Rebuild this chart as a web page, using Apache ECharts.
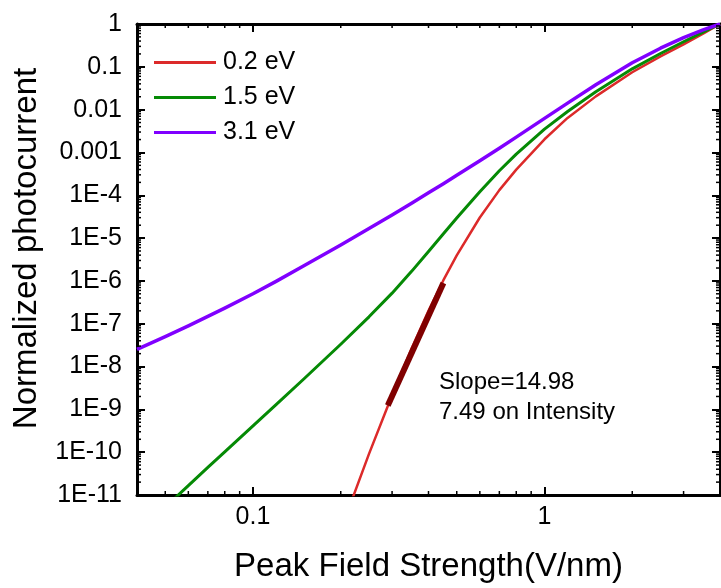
<!DOCTYPE html>
<html>
<head>
<meta charset="utf-8">
<script src="https://cdn.jsdelivr.net/npm/echarts@6/dist/echarts.min.js"></script>
<style>
html,body{margin:0;padding:0;background:#fff;}
#chart{width:721px;height:588px;}
</style>
</head>
<body>
<div id="chart"></div>
<script>
// ---- data ----
const fieldStrength = [0.04, 0.05, 0.06, 0.07, 0.08, 0.1, 0.12, 0.15, 0.2, 0.22, 0.25, 0.3, 0.35, 0.4, 0.45, 0.5, 0.6, 0.7, 0.8, 1.0, 1.2, 1.5, 2, 2.5, 3, 3.5, 4];
const series02eV = [null, null, null, null, null, null, null, null, 1.41e-12, 8.71e-12, 9.12e-11, 2.13e-9, 2.64e-8, 2.01e-7, 1.04e-6, 3.95e-6, 3.03e-5, 1.32e-4, 3.98e-4, 2.03e-3, 6.40e-3, 2.04e-2, 7.46e-2, 0.175, 0.336, 0.594, 1];
const series15eV = [null, 5.18e-12, 1.66e-11, 4.42e-11, 1.02e-10, 4.13e-10, 1.29e-9, 5.26e-9, 3.32e-8, null, 1.45e-7, 5.18e-7, 1.67e-6, 4.86e-6, 1.26e-5, 2.94e-5, 1.21e-4, 3.74e-4, 9.16e-4, 3.50e-3, 9.02e-3, 2.61e-2, 8.97e-2, 0.205, 0.385, 0.646, 1];
const series31eV = [2.51e-8, 5.01e-8, 8.91e-8, 1.48e-7, 2.32e-7, 5.01e-7, 9.77e-7, 2.29e-6, 6.92e-6, null, 1.67e-5, 3.47e-5, 6.53e-5, 1.14e-4, 1.86e-4, 2.92e-4, 6.38e-4, 1.26e-3, 2.28e-3, 6.24e-3, 1.42e-2, 3.83e-2, 0.124, 0.272, 0.479, 0.726, 1];
const slopeFitX = [0.29, 0.45];
const slopeFitY = [1.23e-9, 8.9e-7];
const seriesNames = ['0.2 eV', '1.5 eV', '3.1 eV'];
const xTickValues = [0.1, 1];
const xTickLabels = ['0.1', '1'];
const yTickValues = [1, 0.1, 0.01, 0.001, 1e-4, 1e-5, 1e-6, 1e-7, 1e-8, 1e-9, 1e-10, 1e-11];
const yTickLabels = ['1', '0.1', '0.01', '0.001', '1E-4', '1E-5', '1E-6', '1E-7', '1E-8', '1E-9', '1E-10', '1E-11'];
const annotationText = ['Slope=14.98', '7.49 on Intensity'];
const xMin = 0.04, xMax = 4, yMin = 1e-11, yMax = 1;
const xMinorTicks = [0.05, 0.06, 0.07, 0.08, 0.09, 0.2, 0.3, 0.4, 0.5, 0.6, 0.7, 0.8, 0.9, 2, 3];

// ---- build ----
const FONT = 'Liberation Sans, Arial, sans-serif';
function pairs(xs, ys) {
  const out = [];
  for (let i = 0; i < xs.length; i++) if (ys[i] != null) out.push([xs[i], ys[i]]);
  return out;
}
function labelFor(values, labels, v) {
  for (let i = 0; i < values.length; i++) {
    if (Math.abs(Math.log10(v) - Math.log10(values[i])) < 1e-6) return labels[i];
  }
  return '';
}

const minorData = [];
xMinorTicks.forEach(x => { minorData.push([x, yMin, 0]); minorData.push([x, yMax, 1]); });
for (let d = -11; d < 0; d++) {
  for (let k = 2; k <= 9; k++) {
    const y = k * Math.pow(10, d);
    minorData.push([xMin, y, 2]);
    minorData.push([xMax, y, 3]);
  }
}

const axisLineStyle = {color: '#000', width: 3};
function makeX(pos, showLabel) {
  return {
    type: 'log', logBase: 10, min: xMin, max: xMax, position: pos,
    axisLine: {show: true, onZero: false, lineStyle: axisLineStyle},
    axisTick: {show: true, inside: true, length: 8, lineStyle: {color: '#000', width: 2}, customValues: xTickValues},
    axisLabel: {show: showLabel, customValues: xTickValues, formatter: v => labelFor(xTickValues, xTickLabels, v),
      fontSize: 25, color: '#000', fontFamily: FONT, margin: 10},
    splitLine: {show: false}, minorTick: {show: false}
  };
}
function makeY(pos, showLabel) {
  return {
    type: 'log', logBase: 10, min: yMin, max: yMax, position: pos,
    axisLine: {show: true, onZero: false, lineStyle: axisLineStyle},
    axisTick: {show: true, inside: true, length: 8, lineStyle: {color: '#000', width: 2}, customValues: yTickValues},
    axisLabel: {show: showLabel, customValues: yTickValues, formatter: v => labelFor(yTickValues, yTickLabels, v),
      fontSize: 25, color: '#000', fontFamily: FONT, margin: 15},
    splitLine: {show: false}, minorTick: {show: false}
  };
}
const xa = makeX('bottom', true);
xa.name = 'Peak Field Strength(V/nm)';
xa.nameLocation = 'middle';
xa.nameGap = 55;
xa.nameTextStyle = {fontSize: 33, color: '#000', fontFamily: FONT};
const ya = makeY('left', true);
ya.name = 'Normalized photocurrent';
ya.nameLocation = 'middle';
ya.nameGap = 94;
ya.nameTextStyle = {fontSize: 33, color: '#000', fontFamily: FONT, padding: [0, 0, 0, 22]};

const lineCommon = {type: 'line', symbol: 'none', showSymbol: false, smooth: false, clip: true};
const option = {
  animation: false,
  backgroundColor: '#fff',
  grid: {left: 137, right: 1, top: 24, bottom: 90},
  xAxis: [xa, makeX('top', false)],
  yAxis: [ya, makeY('right', false)],
  legend: {
    data: seriesNames, orient: 'vertical', left: 154, top: 50, padding: 0,
    icon: 'rect', itemWidth: 62, itemHeight: 3, itemGap: 10,
    textStyle: {fontSize: 25, lineHeight: 24, color: '#000', fontFamily: FONT, padding: [0, 0, 0, 2]}
  },
  graphic: [{
    type: 'text', left: 439, top: 367,
    style: {text: annotationText.join('\n'), fontSize: 24, lineHeight: 30, fill: '#000', fontFamily: FONT}
  }],
  series: [
    Object.assign({}, lineCommon, {name: seriesNames[0], data: pairs(fieldStrength, series02eV),
      lineStyle: {color: '#dc2a2a', width: 2.5, join: 'round'}, itemStyle: {color: '#dc2a2a'}, z: 3}),
    Object.assign({}, lineCommon, {name: seriesNames[1], data: pairs(fieldStrength, series15eV),
      lineStyle: {color: '#058a05', width: 3, join: 'round'}, itemStyle: {color: '#058a05'}, z: 4}),
    Object.assign({}, lineCommon, {name: seriesNames[2], data: pairs(fieldStrength, series31eV),
      lineStyle: {color: '#8000ff', width: 3.5, join: 'round'}, itemStyle: {color: '#8000ff'}, z: 5}),
    {name: 'fit', type: 'line', data: pairs(slopeFitX, slopeFitY), symbol: 'none',
      lineStyle: {color: '#800000', width: 6}, z: 6},
    {name: 'minor', type: 'custom', data: minorData, clip: false, z: 7, silent: true,
      encode: {x: 0, y: 1},
      renderItem: (params, api) => {
        const p = api.coord([api.value(0), api.value(1)]);
        const d = api.value(2);
        const L = 4;
        let x2 = p[0], y2 = p[1];
        if (d === 0) y2 -= L; else if (d === 1) y2 += L; else if (d === 2) x2 += L; else x2 -= L;
        return {type: 'line', shape: {x1: p[0], y1: p[1], x2: x2, y2: y2}, style: {stroke: '#000', lineWidth: 1.5}};
      }}
  ]
};
const chart = echarts.init(document.getElementById('chart'), null, {renderer: 'canvas'});
chart.setOption(option);
</script>
</body>
</html>
